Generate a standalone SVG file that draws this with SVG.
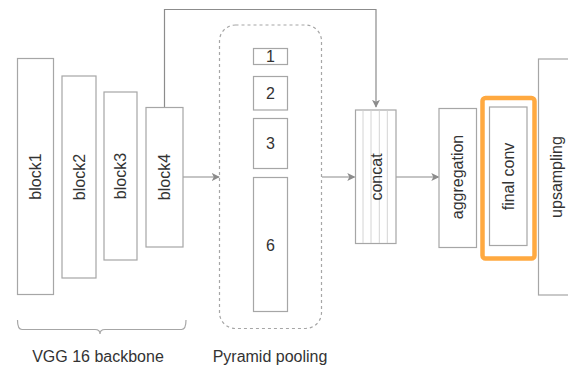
<svg xmlns="http://www.w3.org/2000/svg" width="568" height="367" viewBox="0 0 568 367">
<style>
.box{fill:#fff;stroke:#a6a6a6;stroke-width:1.2}
.lbl{font-family:"Liberation Sans",Arial,sans-serif;font-size:16px;fill:#333;text-anchor:middle;dominant-baseline:central}
.conn{fill:none;stroke:#8c8c8c;stroke-width:1.2}
.stripe{stroke:#d4d4d4;stroke-width:1}
</style>
<defs>
<marker id="arr" viewBox="0 0 10 10" refX="9" refY="5" markerWidth="8" markerHeight="8" markerUnits="userSpaceOnUse" orient="auto">
<path d="M0,0 L10,5 L0,10 L2.5,5 Z" fill="#8c8c8c"/>
</marker>
</defs>
<rect width="568" height="367" fill="#fff"/>
<g id="connectors">
<path class="conn" d="M164.5,107 V9.5 H376 V107" marker-end="url(#arr)"/>
<path class="conn" d="M183,177 H219" marker-end="url(#arr)"/>
<path class="conn" d="M322,177 H354.5" marker-end="url(#arr)"/>
<path class="conn" d="M396,177 H438.5" marker-end="url(#arr)"/>
</g>
<g id="block1"><rect class="box" x="17.5" y="58.5" width="36" height="236"/><text class="lbl" transform="translate(35.5,176.5) rotate(-90)">block1</text></g>
<g id="block2"><rect class="box" x="62" y="76" width="34" height="202"/><text class="lbl" transform="translate(79,177) rotate(-90)">block2</text></g>
<g id="block3"><rect class="box" x="104" y="92" width="33" height="168"/><text class="lbl" transform="translate(120.5,176) rotate(-90)">block3</text></g>
<g id="block4"><rect class="box" x="146" y="107.5" width="37" height="139.5"/><text class="lbl" transform="translate(164.5,177) rotate(-90)">block4</text></g>
<g id="backbone-brace">
<path d="M17.5,320 Q17.5,329.5 22,329.5 H95 Q100,329.5 100,334 Q100,329.5 105,329.5 H181.5 Q186,329.5 186,320" fill="none" stroke="#a6a6a6" stroke-width="1.2"/>
<text class="lbl" x="98" y="356">VGG 16 backbone</text>
</g>
<g id="pyramid-pooling">
<rect x="219.5" y="25" width="102" height="303.5" rx="16" ry="16" fill="none" stroke="#a6a6a6" stroke-width="1.2" stroke-dasharray="3,3"/>
<text class="lbl" x="270" y="356">Pyramid pooling</text>
</g>
<g id="pool1"><rect class="box" x="253.5" y="48.5" width="34" height="16"/><text class="lbl" x="270.5" y="56.5">1</text></g>
<g id="pool2"><rect class="box" x="253.5" y="76.5" width="34" height="33.5"/><text class="lbl" x="270.5" y="93.5">2</text></g>
<g id="pool3"><rect class="box" x="253.5" y="118.5" width="34" height="50"/><text class="lbl" x="270.5" y="143.5">3</text></g>
<g id="pool6"><rect class="box" x="253.5" y="177.5" width="34" height="134"/><text class="lbl" x="270.5" y="245">6</text></g>
<g id="concat">
<rect class="box" x="355.5" y="110" width="40.5" height="133.5"/>
<line class="stripe" x1="363" y1="110.6" x2="363" y2="243"/>
<line class="stripe" x1="371" y1="110.6" x2="371" y2="243"/>
<line class="stripe" x1="379.3" y1="110.6" x2="379.3" y2="243"/>
<line class="stripe" x1="387.3" y1="110.6" x2="387.3" y2="243"/>
<text class="lbl" transform="translate(376,177) rotate(-90)">concat</text>
</g>
<g id="aggregation"><rect class="box" x="439" y="108.5" width="37.5" height="139"/><text class="lbl" transform="translate(457.5,177) rotate(-90)">aggregation</text></g>
<g id="final-conv">
<rect x="482.5" y="98" width="52" height="160.5" rx="3" ry="3" fill="none" stroke="#ffa940" stroke-width="4.5"/>
<rect class="box" x="489.5" y="107" width="37.5" height="138.5"/>
<text class="lbl" transform="translate(508,176.5) rotate(-90)">final conv</text>
</g>
<g id="upsampling"><rect class="box" x="538.5" y="59" width="40" height="236"/><text class="lbl" transform="translate(556,177) rotate(-90)">upsampling</text></g>
</svg>
